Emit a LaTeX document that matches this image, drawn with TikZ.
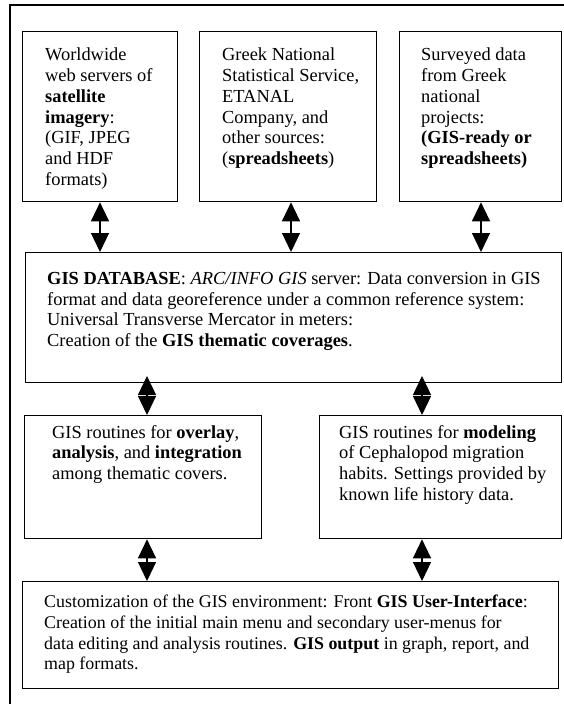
\documentclass[tikz,border=0pt]{standalone}
\usepackage{fontspec}
\setmainfont{Liberation Serif}
\usetikzlibrary{arrows.meta}
\begin{document}
\begin{tikzpicture}[x=1pt,y=-1pt,
  boxnode/.style={draw,line width=1.3pt,inner sep=0pt,anchor=north west},
  txt/.style={anchor=north west,inner sep=0pt,align=left,font=\fontsize{18.4}{20.7}\selectfont},
  dbl/.style={line width=1.2pt,{Triangle[width=18pt,length=19pt]}-{Triangle[width=18pt,length=19pt]}}]
\useasboundingbox (0,0) rectangle (563,704);
% outer frame
\draw[line width=1.3pt] (10,706) -- (10,5) -- (575,5) -- (575,706);
% boxes
\node[boxnode,minimum width=155pt,minimum height=170pt] (b1) at (22,31) {};
\node[boxnode,minimum width=177pt,minimum height=170pt] (b2) at (199,31) {};
\node[boxnode,minimum width=162pt,minimum height=170pt] (b3) at (399,31) {};
\node[boxnode,minimum width=536pt,minimum height=130pt] (db) at (25,252) {};
\node[boxnode,minimum width=237pt,minimum height=123pt] (r1) at (24,415) {};
\node[boxnode,minimum width=242pt,minimum height=123pt] (r2) at (319,415) {};
\node[boxnode,minimum width=536pt,minimum height=107pt] (bot) at (22,581) {};
% texts
\node[txt] (t1) at (45,48) {Worldwide\\web servers of\\\textbf{satellite}\\\textbf{imagery}:\\(GIF, JPEG\\and HDF\\formats)};
\node[txt] (t2) at (222,48) {Greek National\\Statistical Service,\\ETANAL\\Company, and\\other sources:\\(\textbf{spreadsheets})};
\node[txt] (t3) at (421,48) {Surveyed data\\from Greek\\national\\projects:\\\textbf{(GIS-ready or}\\\textbf{spreadsheets)}};
\node[txt] (t4) at (47,272) {\textbf{GIS DATABASE}: \textit{ARC/INFO GIS} server: Data conversion in GIS\\format and data georeference under a common reference system:\\Universal Transverse Mercator in meters:\\Creation of the \textbf{GIS thematic coverages}.};
\node[txt] (t5) at (52,425) {GIS routines for \textbf{overlay},\\\textbf{analysis}, and \textbf{integration}\\among thematic covers.};
\node[txt] (t6) at (339,425) {GIS routines for \textbf{modeling}\\of Cephalopod migration\\habits. Settings provided by\\known life history data.};
\node[txt,font=\fontsize{17.9}{20.7}\selectfont] (t7) at (44,595) {Customization of the GIS environment: Front \textbf{GIS User-Interface}:\\Creation of the initial main menu and secondary user-menus for\\data editing and analysis routines. \textbf{GIS output} in graph, report, and\\map formats.};
% arrows
\coordinate (m1) at (147,376);
\coordinate (m2) at (422,376);
\draw[dbl] (b1.south -| 100,0) -- (db.north -| 100,0);
\draw[dbl] (b2.south -| 291,0) -- (db.north -| 291,0);
\draw[dbl] (b3.south -| 481,0) -- (db.north -| 481,0);
\draw[dbl] (m1) -- (r1.north -| m1);
\draw[dbl] (m2) -- (r2.north -| m2);
\draw[dbl] (r1.south -| 147,0) -- (bot.north -| 147,0);
\draw[dbl] (r2.south -| 422,0) -- (bot.north -| 422,0);
\end{tikzpicture}
\end{document}
